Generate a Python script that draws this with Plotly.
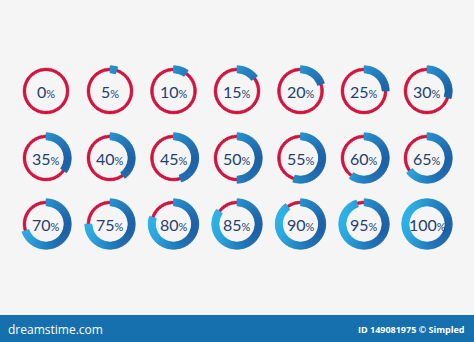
import math
import plotly.graph_objects as go

# Progress values shown in the ring grid (row by row, left to right)
percentages = [0, 5, 10, 15, 20, 25, 30,
               35, 40, 45, 50, 55, 60, 65,
               70, 75, 80, 85, 90, 95, 100]
n_cols = 7

W, H = 474, 342
col_centers = [46, 110, 173.5, 237, 300.5, 364, 427]
row_centers = [91, 158, 224]
half = 27  # half-size of each polar domain in px

# ring geometry in px (radial axis spans 0..half, so units are px)
blue_base, blue_width = 18.0, 7.2
red_base, red_width = 20.2, 2.7

light = (40, 176, 232)
dark = (26, 96, 166)
red = "#d0103a"
text_color = "#233f70"


def arc_color(theta_deg):
    # lighter toward the upper left, darker toward the lower right
    t = (1 + math.cos(math.radians(theta_deg - 105))) / 2
    c = [round(light[i] + (dark[i] - light[i]) * t) for i in range(3)]
    return f"rgb({c[0]},{c[1]},{c[2]})"


fig = go.Figure()
annotations = []

for idx, p in enumerate(percentages):
    r_i, c_i = divmod(idx, n_cols)
    cx, cy = col_centers[c_i], row_centers[r_i]
    name = "polar" if idx == 0 else f"polar{idx + 1}"
    sub = name

    span = 3.6 * p
    # red remainder of the ring
    rem = 360 - span
    if rem > 0:
        n = max(1, math.ceil(rem / 6))
        w = rem / n
        thetas = [span + w * (k + 0.5) for k in range(n)]
        fig.add_trace(go.Barpolar(
            r=[red_width] * n, base=[red_base] * n, theta=thetas, width=[w] * n,
            marker=dict(color=red, line=dict(color=red, width=0.5)),
            subplot=sub, hoverinfo="skip", showlegend=False))
    # blue progress arc with gradient
    if span > 0:
        n = max(1, math.ceil(span / 2))
        w = span / n
        thetas = [w * (k + 0.5) for k in range(n)]
        cols = [arc_color(t) for t in thetas]
        fig.add_trace(go.Barpolar(
            r=[blue_width] * n, base=[blue_base] * n, theta=thetas, width=[w] * n,
            marker=dict(color=cols, line=dict(color=cols, width=0.6)),
            subplot=sub, hoverinfo="skip", showlegend=False))

    fig.update_layout(**{name: dict(
        domain=dict(x=[(cx - half) / W, (cx + half) / W],
                    y=[1 - (cy + half) / H, 1 - (cy - half) / H]),
        bgcolor="rgba(0,0,0,0)",
        bargap=0,
        radialaxis=dict(range=[0, half], visible=False),
        angularaxis=dict(visible=False, direction="clockwise", rotation=90),
    )})

    annotations.append(dict(
        x=cx / W, y=1 - cy / H, xref="paper", yref="paper",
        text=f"{p}<span style='font-size:11px'>%</span>",
        showarrow=False, xanchor="center", yanchor="middle",
        font=dict(family="Lato", size=16, color=text_color)))

# footer banner
annotations.append(dict(
    x=6 / W, y=1 - 329 / H, xref="paper", yref="paper",
    text="dreamstime.com", showarrow=False, xanchor="left", yanchor="middle",
    font=dict(family="Open Sans", size=12, color="white")))
annotations.append(dict(
    x=466 / W, y=1 - 329 / H, xref="paper", yref="paper",
    text="<b>ID 149081975 © Simpled</b>", showarrow=False,
    xanchor="right", yanchor="middle",
    font=dict(family="Open Sans", size=9, color="white")))

fig.update_layout(
    width=W, height=H,
    margin=dict(l=0, r=0, t=0, b=0),
    paper_bgcolor="#f5f5f5",
    plot_bgcolor="#f5f5f5",
    annotations=annotations,
    shapes=[dict(type="rect", xref="paper", yref="paper",
                 x0=0, x1=1, y0=0, y1=1 - 315 / H,
                 fillcolor="#1670ad", line=dict(width=0), layer="below")],
)

fig.write_html("out.html")
